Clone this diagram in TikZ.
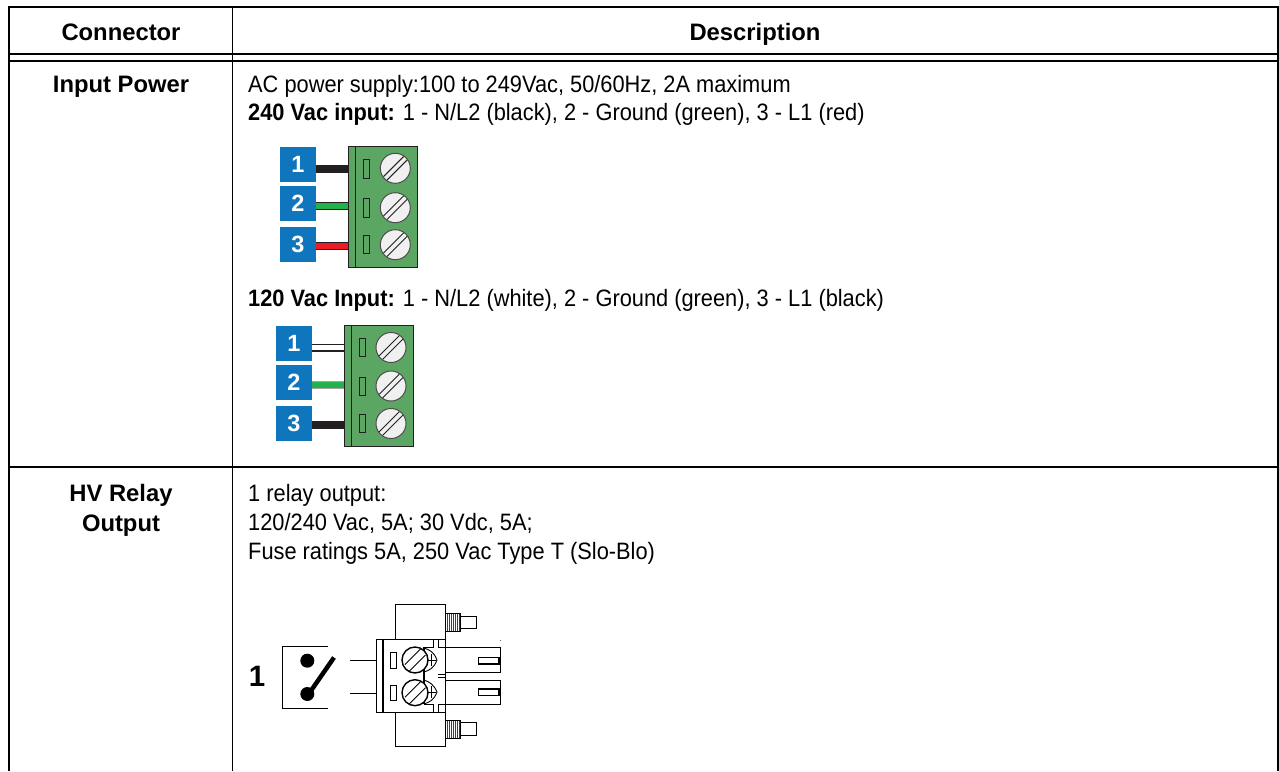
\documentclass[tikz,border=0pt]{standalone}
\usepackage{fontspec}
\setmainfont{Liberation Sans}
\newfontfamily\narrowf[FakeStretch=0.92]{Liberation Sans}
\usetikzlibrary{calc}
\definecolor{badgeblue}{HTML}{0F75BC}
\definecolor{blockgreen}{HTML}{5CA664}
\definecolor{wiregreen}{HTML}{22B14C}
\definecolor{wirered}{HTML}{ED1C24}
\definecolor{wireblack}{HTML}{231F20}
\definecolor{screwfill}{HTML}{F0F0F0}
\tikzset{
  rule/.style={line width=2pt,black},
  head/.style={font=\fontsize{23.8}{26}\selectfont\bfseries,anchor=base,inner sep=0pt},
  body/.style={font=\narrowf\fontsize{23.7}{26}\selectfont,anchor=base west,inner sep=0pt},
  badge/.style={fill=badgeblue,text=white,minimum width=36pt,minimum height=35pt,inner sep=0pt,font=\fontsize{23.5}{26}\selectfont\bfseries},
  block/.style={fill=blockgreen,draw=wireblack,line width=0.9pt,inner sep=0pt},
  wire/.style={line width=6pt},
  slotg/.style={draw=wireblack,line width=0.9pt},
  relay/.style={draw=black,line width=1pt,fill=white},
  rline/.style={draw=black,line width=1pt}
}
\newcommand{\gscrew}[3]{%
  \draw[fill=screwfill,draw=wireblack!80,line width=1pt] (#1,#2) circle (#3);
  \draw[wireblack,line width=1pt] ($(#1,#2)+(-11.75,8.25)$) -- ($(#1,#2)+(8.25,-11.75)$);
  \draw[wireblack,line width=1pt] ($(#1,#2)+(-8.25,11.75)$) -- ($(#1,#2)+(11.75,-8.25)$);
}
\newcommand{\termblock}[6]{% name, x0, x1, y0, y1, inner x
  \node[block,anchor=north west,minimum width=#3pt-#2pt,minimum height=#5pt-#4pt] (#1) at (#2,#4) {};
  \draw[wireblack,line width=0.8pt] (#6,#4) -- (#6,#5);
}
\newcommand{\rscrew}[2]{%
  \draw[black,line width=1.4pt,fill=white] (#1,#2) circle (13);
  \draw[black,line width=1pt] ($(#1,#2)+(-10,4.5)$) -- ($(#1,#2)+(6,-11.5)$);
  \draw[black,line width=1pt] ($(#1,#2)+(-6,11.5)$) -- ($(#1,#2)+(10.5,-5)$);
}
\begin{document}
\begin{tikzpicture}[x=1pt,y=-1pt]
\useasboundingbox (0,0) rectangle (1279,771);
\fill[white] (0,0) rectangle (1279,771);
% table
\draw[rule] (9,771) -- (9,6.5) -- (1278,6.5) -- (1278,771);
\draw[rule] (9,53.5) -- (1278,53.5);
\draw[rule] (9,60.5) -- (1278,60.5);
\draw[rule,line width=1.2pt] (9,467) -- (1278,467);
\draw[rule,line width=1.2pt] (232.5,6.5) -- (232.5,771);
% texts
\node[head] (h1) at (121,40) {Connector};
\node[head] (h2) at (755,40) {Description};
\node[head] (l1) at (121,92) {Input Power};
\node[head] (l2) at (121,501) {HV Relay};
\node[head] (l3) at (121,531) {Output};
\node[body] (t1) at (248,92.5) {AC power supply:100 to 249Vac, 50/60Hz, 2A maximum};
\node[body] (t2) at (248,120.5) {\textbf{240 Vac input:} 1 - N/L2 (black), 2 - Ground (green), 3 - L1 (red)};
\node[body] (t3) at (248,306.5) {\textbf{120 Vac Input:} 1 - N/L2 (white), 2 - Ground (green), 3 - L1 (black)};
\node[body] (t4) at (248,501.5) {1 relay output:};
\node[body] (t5) at (248,530.5) {120/240 Vac, 5A; 30 Vdc, 5A;};
\node[body] (t6) at (248,559.5) {Fuse ratings 5A, 250 Vac Type T (Slo-Blo)};
% first terminal
\termblock{ba}{348}{416.7}{146}{267.3}{355.3}
\coordinate (a1) at (348,169); \coordinate (a2) at (348,206); \coordinate (a3) at (348,246);
\node[badge] (b1) at (298,164.5) {1};
\node[badge] (b2) at (298,203.5) {2};
\node[badge] (b3) at (298,244.5) {3};
\draw[wire,wireblack,line width=8pt] (b1.east |- a1) -- (a1);
\draw[wire,wireblack,line width=8pt] (b2.east |- a2) -- (a2);
\draw[wire,wiregreen] (b2.east |- a2) -- (a2);
\draw[wire,wireblack,line width=8pt] (b3.east |- a3) -- (a3);
\draw[wire,wirered] (b3.east |- a3) -- (a3);
\foreach \y/\yy in {159/178,198/217,235/253}{\draw[slotg] (363.5,\y) rectangle (369.5,\yy);}
\gscrew{395.3}{168.3}{15}
\gscrew{395.3}{207.7}{15}
\gscrew{395.3}{244.7}{15}
% second terminal
\termblock{bb}{343.5}{412.5}{325.3}{446}{351.3}
\coordinate (c1) at (343.5,347.5); \coordinate (c2) at (343.5,385); \coordinate (c3) at (343.5,425);
\node[badge] (d1) at (294,343.5) {1};
\node[badge] (d2) at (294,382.5) {2};
\node[badge] (d3) at (294,423.5) {3};
\draw[wire,wireblack,line width=8pt] (d1.east |- c1) -- (c1);
\draw[wire,white,line width=5pt] (d1.east |- c1) -- (c1);
\draw[wire,wireblack!40,line width=8pt] (d2.east |- c2) -- (c2);
\draw[wire,wiregreen] (d2.east |- c2) -- (c2);
\draw[wire,wireblack,line width=8pt] (d3.east |- c3) -- (c3);
\foreach \y/\yy in {338/356,377/395,414/432}{\draw[slotg] (359.5,\y) rectangle (365.5,\yy);}
\gscrew{391}{347.5}{15}
\gscrew{391}{386}{15}
\gscrew{391}{423.5}{15}
% relay
\node[font=\fontsize{29.5}{32}\selectfont\bfseries,inner sep=0pt] (r1) at (257,676) {1};
\draw[rline] (328,646.7) -- (282.3,646.7) -- (282.3,708) -- (328,708);
\fill[black] (307.3,660.7) circle (7);
\fill[black] (307.3,694) circle (7);
\draw[black,line width=4.5pt] (307.3,696) -- (334,657.5);
\coordinate (w1) at (350,660); \coordinate (w2) at (350,693.7);
\node[relay,anchor=north west,minimum width=69.3pt,minimum height=72.4pt,inner sep=0pt] (rb) at (375.7,639.3) {};
\draw[rline] (w1) -- (w1 -| rb.west);
\draw[rline] (w2) -- (w2 -| rb.west);
\draw[black,line width=1.8pt] (382.7,639.3) -- (382.7,711.7);
\draw[rline] (395.3,639.3) -- (395.3,604.3) -- (445,604.3) -- (445,639.3);
\draw[rline] (395.3,711.7) -- (395.3,746.7) -- (445,746.7) -- (445,711.7);
% clamp details
\draw[rline,line width=0.7pt] (424,647) -- (433,647) -- (433,639.3);
\draw[rline,line width=0.7pt] (438,639.3) -- (438,647) -- (445,647);
\draw[rline,line width=0.7pt] (424,704) -- (433,704) -- (433,711.7);
\draw[rline,line width=0.7pt] (438,711.7) -- (438,704) -- (445,704);
\draw[rline,line width=1.1pt] (424,647) -- (424,704);
\draw[black,line width=0.9pt] (424,648) .. controls (430,650) and (434,652) .. (437,660) .. controls (434,668) and (430,670) .. (424,672);
\draw[black,line width=0.9pt] (424,680) .. controls (430,682) and (434,685) .. (437,692) .. controls (434,700) and (430,702) .. (424,704);
\draw[black,line width=0.7pt] (431,654) -- (431,666) (427,660) -- (436,660);
\draw[black,line width=0.7pt] (431,686) -- (431,698) (427,692) -- (436,692);
\foreach \y/\yy in {652.3/668,685/700}{\draw[rline,line width=0.8pt] (390.7,\y) rectangle (396,\yy);}
\rscrew{415}{660}
\rscrew{415}{692.7}
% threads and pins
\foreach \yt/\yb/\pt/\pb in {613.3/631/616/628.3,720/738.3/722.7/735}{
  \fill[black!75] (445,\yt) rectangle (460.7,\yb);
  \foreach \xx in {446.5,448.5,...,460}{\draw[white,line width=0.5pt] (\xx,\yt) -- (\xx,\yb);}
  \draw[rline] (445,\yt) rectangle (460.7,\yb);
  \draw[rline] (460.7,\pt) -- (476.3,\pt) -- (476.3,\pb) -- (460.7,\pb);
}
% right plugs
\draw[rline] (445,647.7) -- (500.7,647.7) -- (500.7,672.3) -- (445,672.3);
\draw[rline] (445,680.7) -- (500.7,680.7) -- (500.7,704.3) -- (445,704.3);
\draw[black,line width=1.2pt,fill=white] (478.3,657.3) rectangle (499,664);
\draw[black,line width=1.2pt,fill=white] (478.3,689) rectangle (499,695.7);
\draw[rline,line width=0.6pt] (438,674) -- (445,674) (438,677) -- (445,677);
\fill[black!60] (499.5,639.5) rectangle (500.5,640.3);
\end{tikzpicture}
\end{document}
